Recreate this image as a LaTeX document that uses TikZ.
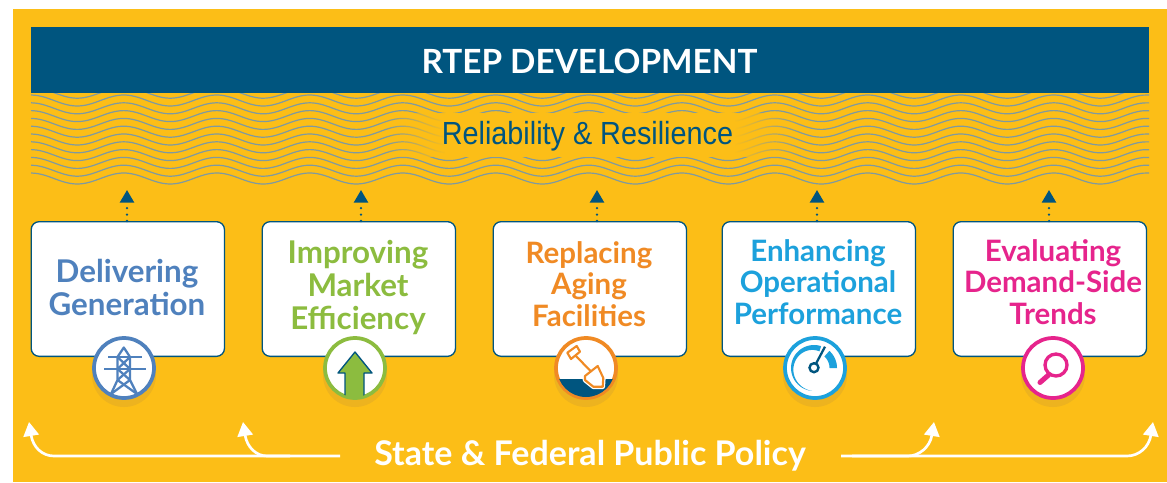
\documentclass[tikz,border=0pt]{standalone}
\usepackage{fontspec}
\usetikzlibrary{arrows.meta,fadings}
\setmainfont{Lato}
\newfontfamily\condfont[FakeStretch=0.9]{Liberation Sans}
\definecolor{gold}{HTML}{FCBE17}
\definecolor{navy}{HTML}{00557F}
\definecolor{wave}{HTML}{7F9AA0}
\definecolor{shadowc}{HTML}{EDB31F}
\definecolor{cblue}{HTML}{4F81BD}
\definecolor{cgreen}{HTML}{8CBC3F}
\definecolor{corange}{HTML}{F08A24}
\definecolor{ccyan}{HTML}{1CA1DC}
\definecolor{cpink}{HTML}{E6248C}
\tikzset{
  cardbox/.style={draw=navy,line width=1pt,fill=white,rounded corners=6pt,minimum width=145pt,minimum height=101pt,anchor=north west,inner sep=0pt},
  cardbig/.style={font=\bfseries\fontsize{23.5}{24.4}\selectfont,align=center,inner sep=0pt},
  cardsmall/.style={font=\bfseries\fontsize{22.1}{23.6}\selectfont,align=center,inner sep=0pt},
  badge/.style={circle,fill=white,draw=#1,line width=2.8pt,minimum size=45pt,inner sep=0pt},
  dotline/.style={navy,line width=1.9pt,line cap=round,dash pattern=on 0pt off 4.8pt,-{Triangle[width=10.5pt,length=9.5pt]}},
  policyline/.style={white,line width=2pt,-{Triangle[width=11.5pt,length=10.5pt]}},
  waveline/.style={wave,line width=0.9pt},
  towerline/.style={cblue,line width=1.7pt},
}
\begin{document}
\begin{tikzpicture}[x=0.75pt,y=-0.75pt]
\useasboundingbox (0,0) rectangle (1167,482);
\fill[white] (0,0) rectangle (1167,482);
\fill[gold] (13,9) rectangle (1167,482);
% waves
\begin{scope}
\clip (31,93) rectangle (1149,190);
\foreach \k in {0,...,11}{
  \pgfmathsetmacro{\yy}{178.5-7.8*\k}
  \draw[waveline] plot[smooth,samples=200,domain=31:1149] (\x,{\yy+5.5*sin((\x-54)/93*360)});
}
\end{scope}
\fill[gold] (445,113) rectangle (735,157);
\fill[gold,path fading=west] (385,113) rectangle (446,157);
\fill[gold,path fading=east] (734,113) rectangle (800,157);
\fill[navy] (31,27) rectangle (1149,93);
\node[font=\fontsize{25}{29}\selectfont\bfseries,text=white,inner sep=0pt] (title) at (589.5,61) {RTEP DEVELOPMENT};
\node[font=\condfont\fontsize{24}{28}\selectfont,text=navy,inner sep=0pt] (rel) at (587.5,136.5) {Reliability \& Resilience};
% cards
\node[cardbox] (c1) at (30.5,221) {};
\node[cardbox] (c2) at (261.5,221) {};
\node[cardbox] (c3) at (492.5,221) {};
\node[cardbox] (c4) at (721.5,221) {};
\node[cardbox] (c5) at (952.5,221) {};
\node[cardbig,text=cblue] (t1) at (127,287.5) {Delivering\\Generation};
\node[cardbig,text=cgreen] (t2) at (358,287.5) {Improving\\Market\\Efficiency};
\node[cardsmall,text=corange] (t3) at (589,284) {Replacing\\Aging\\Facilities};
\node[cardsmall,text=ccyan] (t4) at (818,282) {Enhancing\\Operational\\Performance};
\node[cardsmall,text=cpink] (t5) at (1053,282) {Evaluating\\Demand-Side\\Trends};
% dotted arrows
\coordinate (a1) at (127,190);\coordinate (a2) at (361,190);\coordinate (a3) at (597,190);\coordinate (a4) at (817,190);\coordinate (a5) at (1049,190);
\foreach \i in {1,...,5}{\draw[dotline] (a\i |- c\i.north) -- (a\i);}
% badges
\foreach \n/\x/\c in {1/124/cblue,2/355/cgreen,3/586/corange,4/815/ccyan,5/1053/cpink}{
  \fill[shadowc] (\x,375) circle (32);
  \node[badge=\c] (b\n) at (\x,368) {};
}
% tower
\begin{scope}
\clip (b1.center) circle (29);
\draw[towerline] (108,357.3) -- (141.7,357.3);
\draw[towerline] (104,369) -- (146,369);
\draw[towerline,line join=round] (111,394) -- (117.5,380) -- (117.5,357) -- (123.8,347.5) -- (130,357) -- (130,380) -- (137,394);
\draw[towerline] (117.5,357) -- (130,369) -- (117.5,380);
\draw[towerline] (130,357) -- (117.5,369) -- (130,380);
\draw[towerline] (117.5,380) -- (137,394);
\draw[towerline] (130,380) -- (111,394);
\end{scope}
% up arrow
\begin{scope}
\clip (b2.center) circle (29);
\draw[navy,fill=cgreen,line width=1pt,line join=round] (345,400) -- (345,373) -- (338,373) -- (355,352) -- (372,373) -- (364,373) -- (364,400) -- cycle;
\end{scope}
% shovel
\begin{scope}
\clip (b3.center) circle (29);
\fill[navy] (550,379) rectangle (622,404);
\draw[white,fill=white,line width=3.5pt,line join=round] (585,376) -- (597.7,366) -- (603.3,378) -- (602.7,386.7) -- (593.3,386.7) -- (585,380) -- cycle;
\draw[corange,line width=1.6pt,line join=round] (574,354) -- (591.5,372);
\draw[corange,fill=white,line width=1.6pt,line join=round] (567.3,352.7) -- (576.7,346) -- (580,351.7) -- (571,359) -- cycle;
\draw[corange,fill=white,line width=1.6pt,line join=round] (585,376) -- (597.7,366) -- (603.3,378) -- (602.7,386.7) -- (593.3,386.7) -- (585,380) -- cycle;
\end{scope}
% gauge
\fill[ccyan] plot[samples=40,domain=72:265] ({814+23*cos(\x)},{368-23*sin(\x)}) -- plot[samples=40,domain=265:72] ({814+(23-5.5*(265-\x)/193)*cos(\x)},{368-(23-5.5*(265-\x)/193)*sin(\x)}) -- cycle;
\fill[ccyan] plot[samples=20,domain=0:48] ({814+23*cos(\x)},{368-23*sin(\x)}) -- plot[samples=20,domain=48:0] ({814+15.5*cos(\x)},{368-15.5*sin(\x)}) -- cycle;
\draw[navy,line width=1.7pt] (816.2,363.2) -- (825,346.7);
\draw[navy,line width=1.8pt] (814,367.7) circle (4.5);
% magnifier
\draw[cpink,line width=2.5pt] (1056,365) circle (11);
\draw[cpink,line width=3.8pt,line cap=round] (1048.5,375) -- (1040,382.5);
% policy
\node[font=\bfseries\fontsize{25.5}{29}\selectfont,text=white,inner sep=0pt] (pol) at (590,455.5) {State \& Federal Public Policy};
\coordinate (l1) at (29,422);\coordinate (l2) at (243,422);\coordinate (r1) at (934,422);\coordinate (r2) at (1153,422);
\coordinate (ls) at (290,456);\coordinate (rs) at (852,456);\coordinate (lm) at (340,456);\coordinate (rm) at (841,456);
\draw[policyline] (lm) -- (54,456) .. controls (42,456) and (33,447) .. (l1);
\draw[policyline] (ls) -- (267,456) .. controls (256,456) and (247,447) .. (l2);
\draw[policyline] (rs) -- (908,456) .. controls (919,456) and (930,447) .. (r1);
\draw[policyline] (rm) -- (1127,456) .. controls (1139,456) and (1149,447) .. (r2);
\end{tikzpicture}
\end{document}
